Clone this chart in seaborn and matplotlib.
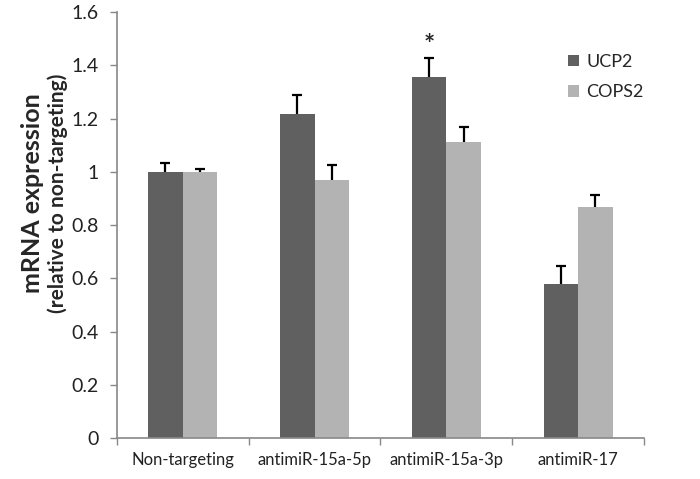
import numpy as np
import pandas as pd
import matplotlib
matplotlib.use("Agg")
import matplotlib.pyplot as plt
import seaborn as sns

# valores
grupos = ["Non-targeting", "antimiR-15a-5p", "antimiR-15a-3p", "antimiR-17"]
genes = ["UCP2", "COPS2"]
ucp2 = [1.00, 1.217, 1.355, 0.580]
cops2 = [1.00, 0.968, 1.112, 0.868]
ucp2_err = [0.035, 0.072, 0.072, 0.068]
cops2_err = [0.010, 0.057, 0.058, 0.045]
cores = ["#606060", "#b3b3b3"]

df = pd.DataFrame({
    "grupo": grupos * 2,
    "gene": ["UCP2"] * 4 + ["COPS2"] * 4,
    "valor": ucp2 + cops2,
    "erro": ucp2_err + cops2_err,
})

sns.set_style("white")
plt.rcParams["font.family"] = ["Lato", "DejaVu Sans"]

fig = plt.figure(figsize=(7, 4.79), dpi=100)
ax = fig.add_axes([0.167, 0.0856, 0.753, 0.889])

sns.barplot(data=df, x="grupo", y="valor", hue="gene", order=grupos,
            hue_order=genes, palette=cores, width=0.525, saturation=1,
            errorbar=None, ax=ax, linewidth=0)

# barras de erro so para cima, usando o centro de cada barra
patches = sorted(ax.patches[:8], key=lambda p: p.get_x())
linhas = df.set_index(["grupo", "gene"]).loc[
    [(g, h) for g in grupos for h in genes]].reset_index()
for p, (_, row) in zip(patches, linhas.iterrows()):
    cx = p.get_x() + p.get_width() / 2
    _, caps, _ = ax.errorbar(cx, row["valor"], yerr=[[0], [row["erro"]]],
                             fmt="none", ecolor="black", elinewidth=1.6,
                             capsize=3.6, capthick=1.6)
    caps[0].set_visible(False)  # esconde o cap de baixo
    if row["grupo"] == "antimiR-15a-3p" and row["gene"] == "UCP2":
        ax.text(cx, row["valor"] + row["erro"] + 0.05, "*", ha="center",
                va="center", fontsize=19, fontweight="bold")

ax.set_ylim(0, 1.6)
ax.set_xlim(-0.5, 3.5)
ax.set_yticks(np.arange(0, 1.61, 0.2))
ax.set_yticklabels(["0", "0.2", "0.4", "0.6", "0.8", "1", "1.2", "1.4", "1.6"])
ax.set_xticks(range(4))
ax.set_xticks(np.arange(-0.5, 3.6, 1), minor=True)
ax.tick_params(axis="x", which="major", length=0, pad=10, labelsize=12)
ax.tick_params(axis="x", which="minor", length=5, color="#888888", width=1, direction="out")
ax.tick_params(axis="y", length=5, color="#888888", width=1, direction="out",
               labelsize=14, pad=8)
ax.tick_params(bottom=True, left=True, which="both")
for lbl in ax.get_xticklabels() + ax.get_yticklabels():
    lbl.set_color("#222222")

for s in ["top", "right"]:
    ax.spines[s].set_visible(False)
for s in ["left", "bottom"]:
    ax.spines[s].set_color("#888888")
    ax.spines[s].set_linewidth(1.2)

ax.set_xlabel("")
ax.set_ylabel("")
fig.text(0.047, 0.597, "mRNA expression", rotation=90, ha="center",
         va="center", fontsize=18, fontweight="bold")
fig.text(0.082, 0.597, "(relative to non-targeting)", rotation=90,
         ha="center", va="center", fontsize=15, fontweight="bold")

ax.legend(loc="upper left", bbox_to_anchor=(0.825, 0.94), frameon=False,
          fontsize=13, handlelength=0.6, handleheight=0.6, handletextpad=0.4,
          labelspacing=0.8)

fig.savefig("out.png", dpi=100)
